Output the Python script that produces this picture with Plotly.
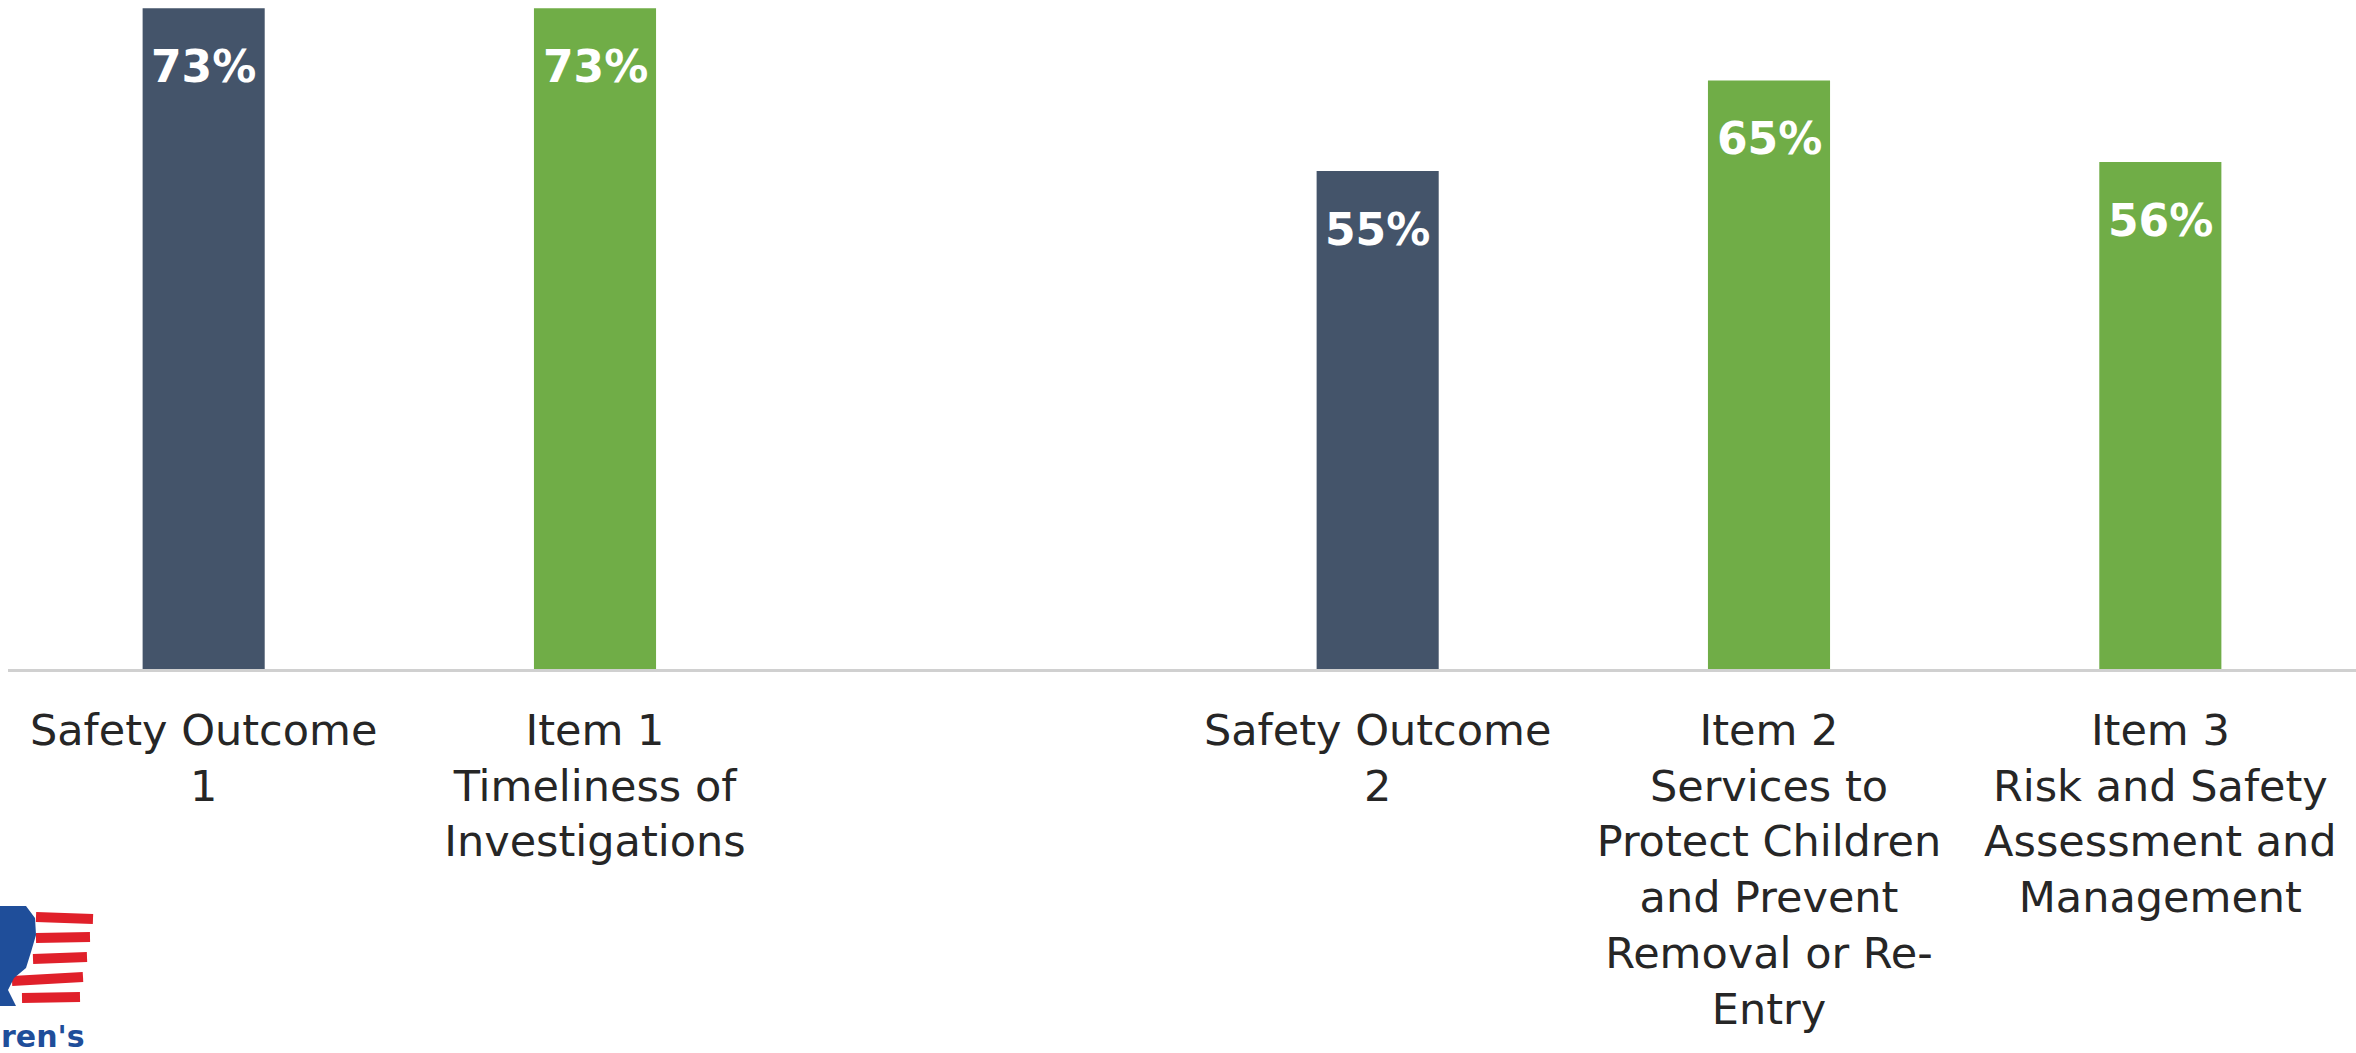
import plotly.graph_objects as go

categories = [
    "Safety Outcome<br>1",
    "Item 1<br>Timeliness of<br>Investigations",
    " ",
    "Safety Outcome<br>2",
    "Item 2<br>Services to<br>Protect Children<br>and Prevent<br>Removal or Re-<br>Entry",
    "Item 3<br>Risk and Safety<br>Assessment and<br>Management",
]
values = [0.73, 0.73, None, 0.55, 0.65, 0.56]
bar_colors = ["#44546A", "#70AD47", "#FFFFFF", "#44546A", "#70AD47", "#70AD47"]

W, H = 2356, 1053
L, R, T, B = 8, 0, 0, 384

fig = go.Figure()
fig.add_trace(go.Bar(
    x=categories, y=values, marker=dict(color=bar_colors, line=dict(width=0)),
    width=0.312, hoverinfo="skip", showlegend=False,
))

for c, v in zip(categories, values):
    if v is None:
        continue
    fig.add_annotation(x=c, y=v, text=f"<b>{round(v*100)}%</b>", showarrow=False,
                       yanchor="middle", yshift=-58,
                       font=dict(family="DejaVu Sans", size=44, color="white"))

def px(xp):
    return (xp - L) / (W - L - R)

def py(yp):
    return (H - B - yp) / (H - B - T)

# partial logo fragment at lower left
stripes = [(36, 93, 917, 919), (36, 90, 938, 937), (33, 87, 959, 957), (12, 83, 981, 977), (22, 80, 998, 997)]
for x0, x1, y0, y1 in stripes:
    fig.add_shape(type="line", xref="paper", yref="paper",
                  x0=px(x0), x1=px(x1), y0=py(y0), y1=py(y1),
                  line=dict(color="#E0202A", width=10))
fig.add_shape(type="path", xref="paper", yref="paper",
              path=(f"M {px(0)},{py(906)} L {px(26)},{py(906)} L {px(35)},{py(918)} "
                    f"L {px(36)},{py(935)} L {px(31)},{py(952)} L {px(26)},{py(968)} "
                    f"L {px(14)},{py(978)} L {px(8)},{py(990)} L {px(16)},{py(1006)} "
                    f"L {px(0)},{py(1006)} Z"),
              fillcolor="#1F4E9A", line=dict(width=0))
fig.add_annotation(xref="paper", yref="paper", x=px(-1), y=py(1036), xanchor="left",
                   yanchor="middle", text="<b>ren's</b>", showarrow=False,
                   font=dict(family="DejaVu Sans", size=30, color="#1F4E9A"))

fig.update_layout(
    width=W, height=H,
    margin=dict(l=L, r=R, t=T, b=B, pad=0),
    plot_bgcolor="white", paper_bgcolor="white",
    bargap=0.688,
)
fig.update_xaxes(
    type="category", showgrid=False, ticks="", showline=True,
    linecolor="#D0D0D0", linewidth=3, zeroline=False,
    tickfont=dict(family="DejaVu Sans", size=43, color="#262626"),
    tickangle=0, ticklabelstandoff=21,
)
fig.update_yaxes(range=[0, 0.739], visible=False, showgrid=False, zeroline=False)

fig.write_html("out.html")
